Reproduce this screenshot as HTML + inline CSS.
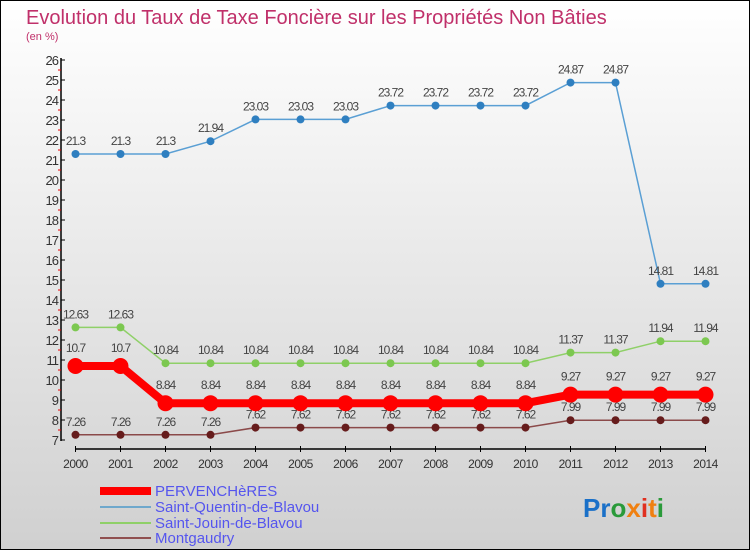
<!DOCTYPE html>
<html><head><meta charset="utf-8"><style>
body{margin:0;width:750px;height:550px;overflow:hidden;font-family:"Liberation Sans",sans-serif}
#c{position:absolute;left:0;top:0;width:748px;height:548px;border:1px solid #000;background:linear-gradient(#fff,#d0d0d0)}
</style></head><body>
<div id="c">
<svg id="s" width="750" height="550" style="position:absolute;left:-1px;top:-1px">
<text x="26" y="24" font-size="20" fill="#c0306a">Evolution du Taux de Taxe Foncière sur les Propriétés Non Bâties</text>
<text x="26" y="40" font-size="11" fill="#c0306a">(en %)</text>
<g id="axes"></g><g id="series"></g>
<g id="legend" font-size="15" fill="#5555ee"></g>
<g font-size="26" font-weight="bold">
<text x="583" y="517"><tspan fill="#1a70c8">Pr</tspan><tspan fill="#2a9a3a">o</tspan><tspan fill="#f08010">x</tspan><tspan fill="#e03020">i</tspan><tspan fill="#f08010">t</tspan><tspan fill="#2a9a3a">i</tspan></text>
</g>
</svg></div>
<script>
const years=[2000,2001,2002,2003,2004,2005,2006,2007,2008,2009,2010,2011,2012,2013,2014];
const yTicks=[7,8,9,10,11,12,13,14,15,16,17,18,19,20,21,22,23,24,25,26];
const perv=[10.7,10.7,8.84,8.84,8.84,8.84,8.84,8.84,8.84,8.84,8.84,9.27,9.27,9.27,9.27];
const sqb=[21.3,21.3,21.3,21.94,23.03,23.03,23.03,23.72,23.72,23.72,23.72,24.87,24.87,14.81,14.81];
const sjb=[12.63,12.63,10.84,10.84,10.84,10.84,10.84,10.84,10.84,10.84,10.84,11.37,11.37,11.94,11.94];
const mont=[7.26,7.26,7.26,7.26,7.62,7.62,7.62,7.62,7.62,7.62,7.62,7.99,7.99,7.99,7.99];
const names=["PERVENCHèRES","Saint-Quentin-de-Blavou","Saint-Jouin-de-Blavou","Montgaudry"];
const NS="http://www.w3.org/2000/svg";
const X=i=>75.5+45*i, Y=v=>60+(26-v)*20;
function mk(t,a,p){const e=document.createElementNS(NS,t);for(const k in a)e.setAttribute(k,a[k]);p.appendChild(e);return e;}
const ax=document.getElementById('axes');
mk('line',{x1:61,y1:58,x2:61,y2:441,stroke:'#000','stroke-width':1.5},ax);
mk('line',{x1:75,y1:449,x2:706,y2:449,stroke:'#000','stroke-width':1.5},ax);
yTicks.forEach(v=>{
 mk('line',{x1:61,y1:Y(v),x2:65,y2:Y(v),stroke:'#000'},ax);
 if(v<26)mk('line',{x1:58,y1:Y(v)-10,x2:61,y2:Y(v)-10,stroke:'#e00'},ax);
 const t=mk('text',{x:58,y:Y(v)+5,'text-anchor':'end','font-size':13,fill:'#333','letter-spacing':'-1'},ax);
 
 
 t.textContent=v;
});
years.forEach((yr,i)=>{
 mk('line',{x1:X(i),y1:446,x2:X(i),y2:452,stroke:'#000'},ax);
 const t=mk('text',{x:X(i),y:468,'text-anchor':'middle','font-size':12,fill:'#333','letter-spacing':'-0.5'},ax);
 
 
 t.textContent=yr;
});
const sg=document.getElementById('series');
function series(data,color,dot,w,r,off,name){
 const g=mk('g',{},sg);
 
 
 mk('polyline',{points:data.map((v,i)=>X(i)+','+Y(v)).join(' '),fill:'none',stroke:color,'stroke-width':w},g);
 data.forEach((v,i)=>{
  const c=mk('circle',{cx:X(i),cy:Y(v),r:r,fill:dot},g);
  
  
  const t=mk('text',{x:X(i),y:Y(v)-off,'text-anchor':'middle','font-size':12,fill:'#444','letter-spacing':'-1'},g);
  
  
  t.textContent=v;
 });
}
series(sqb,'#5a9fd4','#2f7fc0',1.5,4,9,'series-saint-quentin');
series(sjb,'#8fd068','#7cc850',1.5,4,9,'series-saint-jouin');
series(mont,'#8b4a4a','#661c1c',1.5,4,9,'series-montgaudry');
series(perv,'#f00','#f00',8,8,14,'series-pervencheres');
const lg=document.getElementById('legend');
const lc=['#f00','#6fa8cc','#8fd068','#905050'],lw=[8,2,2,2],ly=[491,507,523,538];
names.forEach((n,i)=>{
 const g=mk('g',{},lg);
 
 
 mk('line',{x1:100,y1:ly[i],x2:151,y2:ly[i],stroke:lc[i],'stroke-width':lw[i]},g);
 const t=mk('text',{x:155,y:ly[i]+5},g);t.textContent=n;
});
</script></body></html>
